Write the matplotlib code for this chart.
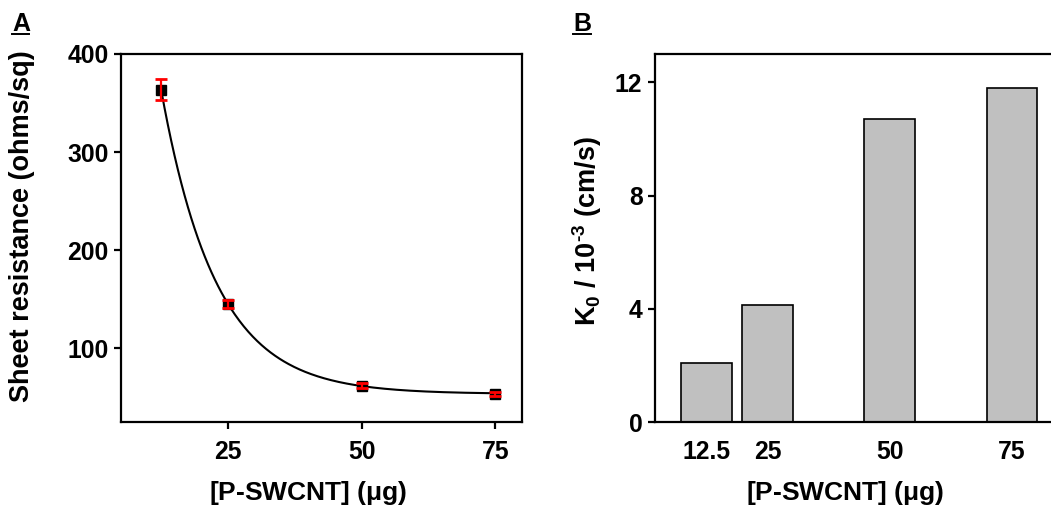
import matplotlib
matplotlib.use("Agg")
import matplotlib.pyplot as plt
import numpy as np
from matplotlib.lines import Line2D

plt.rcParams["font.family"] = ["Liberation Sans", "DejaVu Sans"]
plt.rcParams["font.weight"] = "bold"
plt.rcParams["mathtext.fontset"] = "custom"
plt.rcParams["mathtext.rm"] = "Liberation Sans"
plt.rcParams["mathtext.bf"] = "Liberation Sans:bold"
plt.rcParams["mathtext.it"] = "Liberation Sans:italic"

# panel A: sheet resistance vs P-SWCNT loading
swcnt_ug = [12.5, 25, 50, 75]
sheet_res = [363.8, 145.4, 62.0, 54.0]
sheet_err = [10.5, 4.0, 2.5, 2.0]

# panel B: heterogeneous rate constant
bar_ug = [12.5, 25, 50, 75]
k0_values = [2.09, 4.13, 10.70, 11.79]
bar_labels = ["12.5", "25", "50", "75"]

W, H = 1051, 509
TICK_FS = 17.8
LABEL_FS = 19.5


def exp_decay_fit(x, y):
    # y = y0 + a * exp(-x / t), scan t and solve the linear part
    x = np.asarray(x, float)
    y = np.asarray(y, float)
    best = None
    for t in np.linspace(3, 40, 2000):
        m = np.column_stack([np.ones_like(x), np.exp(-x / t)])
        coef, *_ = np.linalg.lstsq(m, y, rcond=None)
        err = np.sum((m @ coef - y) ** 2)
        if best is None or err < best[0]:
            best = (err, coef[0], coef[1], t)
    return best[1:]


def style_axes(ax):
    for side in ["left", "bottom", "top", "right"]:
        ax.spines[side].set_linewidth(1.6)
    ax.tick_params(direction="out", width=1.6, length=5, labelsize=TICK_FS)
    for lab in ax.get_xticklabels() + ax.get_yticklabels():
        lab.set_fontweight("bold")


fig = plt.figure(figsize=(W / 100, H / 100), dpi=100)

# ---- panel A
ax1 = fig.add_axes([121 / W, 1 - 422 / H, (522 - 121) / W, (422 - 54) / H])
y0, a, t = exp_decay_fit(swcnt_ug, sheet_res)
xf = np.linspace(swcnt_ug[0], swcnt_ug[-1], 300)
ax1.plot(xf, y0 + a * np.exp(-xf / t), color="black", lw=1.5, zorder=2)
ax1.plot(swcnt_ug, sheet_res, "s", color="black", ms=6.5, zorder=3)
ax1.errorbar(swcnt_ug, sheet_res, yerr=sheet_err, fmt="none", ecolor="red",
             elinewidth=1.6, capsize=4.5, capthick=2, zorder=4)
ax1.set_xlim(5, 80)
ax1.set_ylim(25, 400)
ax1.set_xticks([25, 50, 75])
ax1.set_yticks([100, 200, 300, 400])
style_axes(ax1)
ax1.tick_params(axis="x", pad=8)
ax1.tick_params(axis="y", pad=4)

# ---- panel B
ax2 = fig.add_axes([655 / W, 1 - 422 / H, (W - 655) / W, (422 - 54) / H])
ax2.bar(bar_ug, k0_values, width=10.3, color="#c0c0c0", edgecolor="black",
        linewidth=1.2)
ax2.set_xlim(2, 83)
ax2.set_ylim(0, 13)
ax2.set_xticks(bar_ug)
ax2.set_xticklabels(bar_labels)
ax2.set_yticks([0, 4, 8, 12])
ax2.spines["right"].set_visible(False)
style_axes(ax2)
ax2.tick_params(axis="x", length=0, pad=13)
ax2.tick_params(axis="y", pad=4)

# axis titles
fig.text(22 / W, 1 - 226 / H, "Sheet resistance (ohms/sq)", rotation=90,
         ha="center", va="center", fontsize=LABEL_FS, fontweight="bold")
fig.text(587 / W, 1 - 231 / H,
         "K$_\\mathbf{0}$ / 10$^\\mathbf{\u20103}$ (cm/s)",
         rotation=90, ha="center", va="center", fontsize=LABEL_FS,
         fontweight="bold")
xlabel = r"[P-SWCNT] $\mathrm{(\mu g)}$"
fig.text(308 / W, 2 / H, xlabel, ha="center", va="bottom",
         fontsize=19, fontweight="bold")
fig.text(845 / W, 2 / H, xlabel, ha="center", va="bottom",
         fontsize=19, fontweight="bold")

# panel letters, underlined
for letter, x0, x1 in [("A", 12, 29), ("B", 573, 591)]:
    fig.text(x0 / W, 1 - 31 / H, letter, ha="left", va="baseline",
             fontsize=18, fontweight="bold")
    fig.add_artist(Line2D([x0 / W, x1 / W], [1 - 34 / H, 1 - 34 / H],
                          color="black", lw=1.4))

fig.savefig("out.png", dpi=100)
